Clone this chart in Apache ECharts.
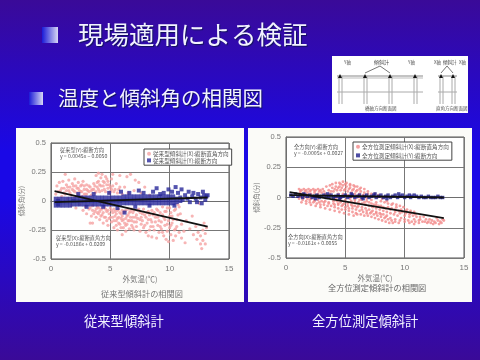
<!DOCTYPE html>
<html><head><meta charset="utf-8">
<style>html,body{margin:0;padding:0;background:#2a0ab8}#c{width:480px;height:360px;filter:blur(0.3px)}</style>
<script src="https://cdn.jsdelivr.net/npm/echarts@6/dist/echarts.min.js"></script></head>
<body><div id="c"></div>
<script>
const FONT='"Noto Sans CJK JP","Noto Sans",sans-serif';
const yTicks=[-0.5,-0.25,0,0.25,0.5];
const titleText='現場適用による検証';
const subtitleText='温度と傾斜角の相関図';
const captions=['従来型傾斜計','全方位測定傾斜計'];
const panelTitles=['従来型傾斜計の相関図','全方位測定傾斜計の相関図'];
const xAxisName='外気温(℃)';
const yAxisName='傾斜角(分)';
const legendLeft=['従来型傾斜計(X):縦断直角方向','従来型傾斜計(Y):縦断方向'];
const legendRight=['全方位測定傾斜計(X):縦断直角方向','全方位測定傾斜計(Y):縦断方向'];

const pinkLeftA=[[0.4,0.06],[0.5,0.13],[0.6,0.02],[0.7,0.16],[0.8,0.09],[0.9,0.04],[1,0.17],[1.1,0.11],[1.2,0.23],[1.2,0.06],[1.3,0.14],[1.4,0.02],[1.5,0.09],[1.5,0.18],[1.6,0.12],[1.7,0.05],[1.7,-0.04],[1.8,0.15],[1.9,0.09],[2,0.19],[2,0.03],[2.1,0.13],[2.1,-0.06],[2.2,0.07],[2.3,0.16],[2.3,0.11],[2.4,-0.03],[2.5,0.08],[2.5,0.13],[2.6,0.04],[2.7,0.17],[2.7,-0.08],[2.8,0.1],[2.9,0.06],[2.9,-0.05],[3,0.14],[3,-0.11],[3.1,0.09],[3.1,0.02],[3.2,-0.07],[3.3,0.12],[3.3,-0.19],[3.4,0.05],[3.4,-0.13],[3.5,0.1],[3.5,-0.04],[3.5,-0.19],[3.6,0.15],[3.7,-0.09],[3.7,0.07],[3.8,0.22],[3.8,-0.14],[3.9,0.12],[3.9,-0.05],[4,0.24],[4,0.17],[4,-0.11],[4.1,0.08],[4.1,-0.16],[4.2,0.2],[4.2,0.13],[4.2,-0.07],[4.3,0.23],[4.3,-0.12],[4.4,0.17],[4.4,-0.19],[4.5,0.1],[4.5,-0.05],[4.6,0.21],[4.6,-0.14],[4.7,0.14],[4.7,-0.09],[4.8,0.17],[4.8,-0.21],[4.9,0.07],[4.9,-0.15],[5,0.12],[5,-0.06],[5.1,0.19],[5.1,-0.18],[5.2,0.23],[5.2,-0.1],[5.3,0.08],[5.3,-0.23],[5.4,-0.13],[5.5,0.15],[5.5,-0.17],[5.6,-0.08],[5.6,-0.25],[5.7,0.1],[5.7,-0.14],[5.8,0.22],[5.8,-0.2],[5.9,-0.11],[6,0.06],[6,-0.17],[6,-0.29],[6.1,-0.23],[6.2,0.12],[6.2,-0.09],[6.3,-0.15],[6.3,-0.26],[6.4,0.21],[6.4,-0.2],[6.5,0.07],[6.5,-0.12],[6.6,-0.17],[6.6,-0.24],[6.7,0.23],[6.7,-0.09],[6.8,-0.21],[6.9,-0.14],[7,0.09],[7,-0.18],[7,-0.25],[7.1,0.18],[7.2,-0.12],[7.2,-0.22],[7.4,0.16],[7.4,-0.07],[7.5,-0.16],[7.5,-0.26],[7.6,0.07],[7.6,-0.2],[7.7,-0.11],[7.8,-0.23],[7.9,0.12],[8,-0.14],[8,-0.27],[8.1,-0.19],[8.2,-0.09],[8.2,-0.3],[8.3,0.05],[8.4,-0.16],[8.4,-0.22],[8.5,-0.31],[8.6,-0.12],[8.7,-0.25],[8.8,-0.18],[8.9,-0.07],[8.9,-0.32],[9,-0.21],[9,-0.14],[9.1,-0.27],[9.2,-0.1],[9.3,-0.18],[9.3,-0.24],[9.4,-0.05],[9.5,-0.3],[9.5,-0.14],[9.6,-0.21],[9.7,-0.33],[9.7,-0.09],[9.8,-0.26],[9.9,-0.17],[9.9,-0.35],[10,-0.23],[10,-0.06],[10.1,-0.29],[10.2,-0.13],[10.2,-0.19],[10.3,-0.34],[10.4,-0.25],[10.4,-0.08],[10.5,-0.3],[10.6,-0.16],[10.6,-0.22],[10.7,-0.03],[10.8,-0.27],[10.9,-0.11],[11,-0.2],[11,-0.32],[11.2,-0.26],[11.3,-0.36],[11.4,-0.17],[11.7,-0.24],[11.9,-0.13],[12,-0.29],[12.2,-0.22],[12.3,-0.33],[12.4,-0.27],[12.5,-0.02],[12.6,-0.3],[12.6,-0.37],[12.7,-0.41],[12.8,-0.25],[12.8,-0.34],[12.9,-0.19],[13,-0.28],[13,-0.37],[13.1,-0.23]];
const pinkLeftB=[[0.6,0.08],[0.9,0.11],[1.1,0.07],[1.3,0.09],[1.4,0.12],[1.6,0.07],[1.8,0.1],[1.9,0.13],[2,0.08],[2.2,0.11],[2.3,0.05],[2.4,0.09],[2.6,0.14],[2.6,0.08],[2.8,0.13],[2.8,0.06],[3,0.1],[3,0.06],[3.2,0.13],[3.2,0.08],[3.3,-0.06],[3.4,0.09],[3.5,-0.08],[3.6,0.1],[3.6,-0.11],[3.7,0.13],[3.8,0.08],[3.8,-0.07],[3.9,0.16],[3.9,-0.1],[4,0.1],[4,-0.06],[4.1,0.14],[4.1,-0.09],[4.2,-0.13],[4.3,0.09],[4.3,-0.07],[4.4,0.13],[4.4,-0.1],[4.5,0.16],[4.5,-0.14],[4.6,0.08],[4.6,-0.07],[4.7,0.19],[4.7,-0.17],[4.8,0.11],[4.8,-0.08],[4.9,0.14],[4.9,-0.11],[5,0.08],[5,-0.14],[5.1,0.1],[5.1,-0.08],[5.2,0.13],[5.2,-0.14],[5.3,-0.07],[5.3,-0.17],[5.4,0.1],[5.4,-0.09],[5.5,-0.11],[5.5,-0.21],[5.6,0.07],[5.6,-0.15],[5.7,-0.07],[5.7,-0.19],[5.8,0.12],[5.8,-0.1],[5.9,-0.15],[5.9,-0.23],[6,-0.08],[6,-0.13],[6.1,-0.1],[6.1,-0.16],[6.2,-0.19],[6.3,-0.08],[6.3,-0.21],[6.4,-0.13],[6.5,-0.07],[6.5,-0.17],[6.6,-0.1],[6.7,-0.14],[6.8,-0.07],[6.8,-0.17],[6.9,-0.1],[6.9,-0.23],[7,-0.08],[7.1,-0.14],[7.2,-0.18],[7.3,-0.08],[7.3,-0.15],[7.5,-0.1],[7.6,-0.14],[7.7,-0.17],[7.8,-0.07],[7.9,-0.12],[7.9,-0.21],[8.1,-0.1],[8.2,-0.16],[8.3,-0.12],[8.3,-0.25],[8.5,-0.08],[8.5,-0.18],[8.6,-0.22],[8.7,-0.1],[8.8,-0.14],[9,-0.08],[9.1,-0.17],[9.2,-0.22],[9.4,-0.12],[9.4,-0.27],[9.6,-0.09],[9.6,-0.16],[9.8,-0.06],[9.8,-0.2],[10,-0.13],[10.1,-0.1],[10.1,-0.21],[10.3,-0.16],[10.5,-0.07],[10.5,-0.24],[10.7,-0.12],[10.8,-0.05]];
const blueLeft=[[0.4,-0.04],[0.4,-0.01],[0.4,0.02],[0.6,-0.03],[0.6,0],[0.7,-0.04],[0.7,-0.01],[0.7,0.02],[1,-0.04],[1,-0.01],[1,0.02],[1.3,-0.04],[1.3,-0.01],[1.3,0.02],[1.6,-0.04],[1.6,-0.01],[1.6,0.02],[1.9,-0.03],[1.9,0],[1.9,0.02],[2.2,-0.03],[2.2,0],[2.2,0.03],[2.5,-0.03],[2.5,0],[2.5,0.03],[2.8,-0.03],[2.8,0],[2.8,0.03],[3.1,-0.03],[3.1,0],[3.1,0.03],[3.4,-0.03],[3.4,0],[3.4,0.03],[3.7,-0.03],[3.7,0],[3.7,0.03],[4,-0.03],[4,0],[4,0.03],[4.3,-0.03],[4.3,0],[4.3,0.03],[4.6,-0.03],[4.6,0],[4.6,0.03],[4.9,-0.03],[4.9,0],[4.9,0.03],[5.2,-0.03],[5.2,0],[5.2,0.03],[5.5,-0.03],[5.5,0],[5.5,0.03],[5.8,-0.03],[5.8,0],[5.8,0.03],[6.1,-0.02],[6.1,0.01],[6.1,0.04],[6.4,-0.02],[6.4,0.01],[6.4,0.04],[6.7,-0.02],[6.7,0.01],[6.7,0.04],[7,-0.02],[7,0.01],[7,0.04],[7.3,-0.02],[7.3,0.01],[7.3,0.04],[7.6,-0.02],[7.6,0.01],[7.6,0.04],[7.9,-0.02],[7.9,0.01],[7.9,0.04],[8.2,-0.02],[8.2,0.01],[8.2,0.04],[8.5,-0.02],[8.5,0.01],[8.5,0.04],[8.8,-0.02],[8.8,0.01],[8.8,0.04],[9.1,-0.02],[9.1,0.01],[9.1,0.04],[9.4,-0.02],[9.4,0.01],[9.4,0.04],[9.7,-0.02],[9.7,0.01],[9.7,0.04],[10,-0.02],[10,0.01],[10,0.04],[10.3,-0.02],[10.3,0.01],[10.3,0.04],[10.6,-0.01],[10.6,0.02],[10.9,0],[10.9,0.03],[2.3,0.06],[3,-0.05],[3.6,0.06],[4.4,-0.05],[4.9,0.07],[5.6,-0.06],[5.9,0.08],[6.2,-0.1],[6.6,0.07],[7.1,-0.05],[7.4,0.09],[7.8,0.07],[8.3,-0.04],[8.6,0.08],[8.9,0.11],[9.2,0.06],[9.5,0.07],[9.9,0.1],[10.2,0.08],[10.4,-0.04],[10.5,0.12],[10.7,0.07],[11,0.1],[11.1,0.01],[11.3,0.05],[11.5,0.02],[11.6,0.08],[11.7,-0.01],[11.9,0.04],[12,0.07],[12.2,0.02],[12.3,-0.01],[12.4,0.06],[12.6,0.03],[12.7,-0.02],[12.8,0.08],[12.9,0.05],[13,0.01],[13.1,0.04],[13.2,0.05]];
const pinkRightA=[[1.1,0.07],[1.3,0.06],[1.5,0.07],[1.7,0.06],[1.9,0.07],[2.1,0.06],[2.3,0.07],[2.5,0.06],[2.7,0.07],[2.9,0.06],[3.1,0.07],[1.2,0.04],[1.5,0.03],[1.8,0.04],[2.1,0.03],[2.4,0.04],[2.7,0.03],[3,0.04],[3.3,0.03],[1.2,0.01],[1.5,0],[1.8,-0.01],[2.1,-0.01],[2.4,-0.02],[2.7,-0.02],[3,-0.03],[3.3,-0.03],[3.6,-0.04],[1.1,-0.01],[1.4,-0.02],[1.7,-0.03],[2,-0.04],[2.3,-0.04],[2.6,-0.05],[2.9,-0.06],[3.2,-0.06],[3.5,-0.07],[3.8,-0.07],[4.1,-0.08],[4.4,-0.09],[4.7,-0.1],[5,-0.1],[5.3,-0.11],[5.6,-0.12],[5.9,-0.13],[3.4,0.09],[3.7,0.1],[3.9,0.11],[4.2,0.12],[4.5,0.12],[4.8,0.13],[5.1,0.12],[5.4,0.11],[5.7,0.1],[6,0.09],[6.3,0.08],[6.6,0.07],[3.6,0.06],[3.9,0.08],[4.2,0.09],[4.5,0.09],[4.8,0.1],[5.1,0.09],[5.4,0.08],[5.7,0.07],[6,0.06],[6.3,0.05],[6.6,0.04],[6.9,0.03],[3.7,0.03],[4,0.05],[4.3,0.06],[4.6,0.06],[4.9,0.06],[5.2,0.05],[5.5,0.04],[5.8,0.03],[6.1,0.02],[7.2,0.03],[7.5,0.03],[7.8,0.02],[4,-0.03],[4.3,-0.03],[4.6,-0.04],[4.9,-0.05],[5.2,-0.05],[5.5,-0.06],[5.8,-0.07],[6.1,-0.07],[6.4,-0.08],[6.7,-0.09],[7,-0.1],[7.3,-0.11],[7.6,-0.12],[7.9,-0.13],[8.2,-0.14],[8.5,-0.15],[4.1,-0.06],[4.4,-0.06],[4.7,-0.07],[5,-0.08],[5.3,-0.09],[5.6,-0.09],[5.9,-0.1],[6.2,-0.11],[6.5,-0.12],[6.8,-0.13],[7.1,-0.13],[7.4,-0.14],[7.7,-0.15],[8,-0.16],[8.3,-0.17],[8.6,-0.18],[8.9,-0.19],[9.2,-0.2],[9.5,-0.21],[6,-0.14],[6.3,-0.14],[6.6,-0.15],[6.9,-0.15],[7.2,-0.16],[7.5,-0.17],[7.8,-0.18],[8.1,-0.19],[8.4,-0.2],[8.7,-0.21],[9,-0.21],[5.5,-0.03],[5.8,-0.04],[6.1,-0.04],[6.4,-0.05],[6.7,-0.06],[7,-0.07],[7.3,-0.08],[7.6,-0.09],[7.9,-0.1],[8.2,-0.11],[8.5,-0.12],[8.8,-0.13],[9.1,-0.14],[9.4,-0.15],[9.7,-0.17],[10,-0.18],[10.3,-0.19],[10.6,-0.2],[10.9,-0.2],[11.2,-0.21],[8.6,-0.08],[8.9,-0.09],[9.2,-0.1],[9.5,-0.11],[9.8,-0.12],[10.1,-0.13],[10.4,-0.14],[10.7,-0.15],[11,-0.16],[11.3,-0.18],[9,-0.05],[9.3,-0.06],[9.6,-0.07],[9.9,-0.08],[10.2,-0.1],[10.5,-0.11],[10.8,-0.12],[8,-0.03],[8.3,-0.04],[8.6,-0.05],[6.4,0],[6.8,-0.01],[7.2,-0.02],[7.6,-0.04],[11.6,-0.16],[11.8,-0.18],[12,-0.2],[12.2,-0.21],[12.4,-0.22],[12.6,-0.21],[12.8,-0.19],[13,-0.2],[13.2,-0.18],[11.5,-0.2],[11.9,-0.21],[12.3,-0.19],[12.7,-0.17],[13.1,-0.21]];
const pinkRightB=[[1.2,0.055],[1.6,0.05],[2,0.05],[2.4,0.055],[2.8,0.05],[3.2,0.05],[1.3,-0.04],[1.7,-0.05],[2.1,-0.06],[2.5,-0.07],[2.9,-0.08],[3.3,-0.09],[3.7,-0.1],[4.1,-0.11],[4.5,-0.12],[4.9,-0.13],[5.3,-0.14],[5.7,-0.15],[2,-0.02],[2.4,-0.03],[2.8,-0.04],[3.2,-0.04],[3.6,-0.05],[4,-0.05],[4.4,-0.05],[4.8,-0.06],[5.2,-0.07],[5.6,-0.07],[6,-0.08],[6.4,-0.1],[6.8,-0.11],[7.2,-0.12],[7.6,-0.13],[8,-0.14],[8.4,-0.16],[8.8,-0.17],[9.2,-0.18],[9.6,-0.19],[10,-0.2],[10.4,-0.21],[10.8,-0.22],[4.4,0.03],[4.8,0.03],[5.2,0.02],[5.6,0.01],[6,0],[6.4,-0.02],[6.8,-0.03],[7.2,-0.05],[7.6,-0.06],[8,-0.07],[8.4,-0.09],[8.8,-0.1],[9.2,-0.12],[9.6,-0.13],[10,-0.15],[10.4,-0.16],[10.8,-0.18],[11.2,-0.19],[3.8,0.05],[4.1,0.07],[4.4,0.08],[4.7,0.08],[5,0.07],[5.3,0.07],[5.6,0.06],[5.9,0.05],[6.2,0.03],[6.5,0.02],[6.9,0.05],[7.3,0.01],[7.7,0],[8.1,-0.01],[8.5,-0.03],[8.9,-0.06],[9.3,-0.08],[9.7,-0.1],[10.1,-0.11],[10.5,-0.13],[10.9,-0.14],[11.3,-0.16],[11.7,-0.2],[12.1,-0.18],[12.5,-0.2],[12.9,-0.22],[13.3,-0.19],[4.2,-0.01],[4.6,-0.01],[5,-0.02],[5.4,-0.01],[5.8,-0.02],[6.2,-0.02],[6.6,-0.04],[7,-0.04],[7.4,-0.06],[7.8,-0.07],[8.2,-0.08],[4.6,0.11],[5,0.11],[5.4,0.1],[5.8,0.09],[6.2,0.07]];
const blueRight=[[0.4,0.02],[0.6,0.01],[0.8,0.03],[1,0.01],[1.2,0.02],[1.4,0],[1.6,0.02],[1.8,0.01],[2,0.02],[2.2,0],[2.4,0.01],[2.6,0.02],[2.8,0],[3,0.01],[3.2,0.02],[3.4,0],[3.6,0.01],[3.8,0.02],[4,0],[4.2,0.01],[4.4,0.02],[4.6,0],[4.8,0.01],[5,0.02],[5.2,0],[5.4,0.01],[5.6,0.02],[5.8,0],[6,0.01],[6.2,0.02],[6.4,0],[6.6,0.01],[6.8,0.02],[7,0],[7.2,0.01],[7.4,0.02],[7.6,0],[7.8,0.01],[8,0.02],[8.2,0],[8.4,0.01],[8.6,0.02],[8.8,0],[9,0.01],[9.2,0.02],[9.4,0],[9.6,0.01],[9.8,0.02],[10,0],[10.2,0.01],[10.4,0.02],[10.6,0.01],[10.8,0.02],[11,0.01],[11.2,0],[11.4,0.01],[11.6,0],[11.8,0],[12,0.01],[12.2,0],[12.4,0],[12.6,0],[12.8,0.01],[13,0],[13.2,0],[1.5,0.03],[2.5,-0.01],[3.5,0.03],[4.5,-0.01],[5.5,0.03],[6.5,-0.01],[7.5,0.03],[8.5,-0.01],[9.5,0.03],[10.5,0]];
const trendLeftX=[[0.3,0.085],[13.2,-0.22]];
const trendLeftY=[[0.3,-0.01],[13.2,0.03]];
const trendRightX=[[0.3,0.045],[13.3,-0.17]];
const trendRightY=[[0.3,0.02],[13.3,0]];

const grey='#6e6e6e', label='#777';
function axes(i){
  return {
    x:{type:'value',gridIndex:i,min:0,max:15,interval:5,name:xAxisName,nameLocation:'middle',nameGap:16,
       nameTextStyle:{color:label,fontSize:7.5,fontFamily:FONT},
       axisLine:{lineStyle:{color:grey}},axisTick:{show:false},
       axisLabel:{color:label,fontSize:8,margin:6,fontFamily:'Liberation Sans'},
       splitLine:{show:true,lineStyle:{color:'#777',width:1}}},
    y:{type:'value',gridIndex:i,min:-0.5,max:0.5,interval:0.25,name:yAxisName,nameLocation:'middle',nameGap:24,
       nameTextStyle:{color:label,fontSize:6.5,fontFamily:FONT},
       axisLine:{lineStyle:{color:grey}},axisTick:{show:false},
       axisLabel:{color:label,fontSize:7.5,margin:5,fontFamily:'Liberation Sans',
         formatter:v=>String(yTicks.find(t=>Math.abs(t-v)<1e-6))},
       splitLine:{show:true,lineStyle:{color:'#777',width:1}}}
  };
}
const a0=axes(0),a1=axes(1);
function scatter(name,data,i,color,shape,size){
  return {type:'scatter',name,data,xAxisIndex:i,yAxisIndex:i,symbol:shape,symbolSize:size,
    itemStyle:{color},silent:true,animation:false,large:false};
}
function trend(data,i){
  return {type:'line',data,xAxisIndex:i,yAxisIndex:i,symbol:'none',silent:true,animation:false,z:5,
    lineStyle:{color:'#111',width:1.8}};
}
function legend(i,names,left,top,gap){
  return {data:names,orient:'vertical',left,top,itemWidth:4,itemHeight:4,itemGap:gap,padding:[2,3],
    backgroundColor:'#fff',borderColor:'#444',borderWidth:1,selectedMode:false,
    textStyle:{fontSize:5.6,color:'#555',fontFamily:FONT,padding:[0,0,0,-3]}};
}
function txt(t,x,y,size,color,extra){
  return Object.assign({type:'text',z:100,x,y,silent:true,
    style:Object.assign({text:t,fontSize:size,fill:color,fontFamily:FONT,verticalAlign:'middle'},extra||{})});
}
function rect(x,y,w,h,fill,z){return {type:'rect',z:z==null?-10:z,silent:true,shape:{x,y,width:w,height:h},style:{fill}};}
function bullet(x,y,w,h){
  return {type:'rect',z:-5,silent:true,shape:{x,y,width:w,height:h},
    style:{fill:{type:'linear',x:0,y:0,x2:1,y2:0,colorStops:[{offset:0,color:'#1a1ad8'},{offset:1,color:'#d8d8f4'}]}}};
}
function ln(x1,y1,x2,y2,c,w){return {type:'line',z:-4,silent:true,shape:{x1,y1,x2,y2},style:{stroke:c||'#999',lineWidth:w||1}};}
function tri(x,y){return {type:'polygon',z:-3,silent:true,shape:{points:[[x-2,y+3],[x+2,y+3],[x,y-1]]},style:{fill:'#111'}};}

const els=[];
els.push({type:'rect',z:-20,silent:true,shape:{x:0,y:0,width:480,height:360},
  style:{fill:{type:'linear',x:0,y:0,x2:0,y2:1,colorStops:[{offset:0,color:'#3a0a98'},{offset:0.42,color:'#1a08e6'},{offset:0.55,color:'#1a08e6'},{offset:1,color:'#3a0a98'}]}}});
els.push(bullet(42,27,16,16),bullet(29,92,14,13));
els.push(txt(titleText,78,34,25.5,'#f2f2ff',{textShadowColor:'#10105a',textShadowBlur:1,textShadowOffsetX:1,textShadowOffsetY:1}));
els.push(txt(subtitleText,58,98,20.5,'#f2f2ff',{textShadowColor:'#10105a',textShadowBlur:1,textShadowOffsetX:1,textShadowOffsetY:1}));
els.push(rect(16,128,228,174,'#fbfbf8'),rect(248,128,224,174,'#fbfbf8'));
els.push(rect(51,143,178,116,'#fff',-9),rect(286,137,178,121,'#fff',-9));
els.push(txt(captions[0],84,321,13.3,'#f2f2ff'),txt(captions[1],312,321,13.3,'#f2f2ff'));
els.push(txt(panelTitles[0],101,294,8.2,'#777'),txt(panelTitles[1],328,288,8.2,'#666'));
els.push(txt('従来型(Y):縦断方向\ny = 0.0045x − 0.0050',60,153,5.2,'#555'));
els.push(txt('従来型(X):縦断直角方向\ny = -0.0186x + 0.0209',56,241,5.2,'#555'));
els.push(txt('全方向(Y):縦断方向\ny = -0.0005x + 0.0027',294,150,5.2,'#555'));
els.push(txt('全方向(X):縦断直角方向\ny = -0.0161x + 0.0055',288,240,5.2,'#555'));
// schematic
els.push(rect(332,56,136,57,'#fff'));
els.push(ln(337,76,423,76,'#888',1),ln(337,78,423,78,'#bbb',1),ln(337,92,423,92,'#aaa',1));
[340,365,390,415].forEach(x=>{els.push(ln(x-1,76,x-1,104,'#aaa',1),ln(x+2,76,x+2,104,'#aaa',1),tri(x,75));});
els.push(ln(438,76,457,76,'#888',1),ln(438,92,457,92,'#aaa',1));
[441,453].forEach(x=>{els.push(ln(x-1,76,x-1,104,'#aaa',1),ln(x+2,76,x+2,104,'#aaa',1),tri(x,75));});
els.push(ln(380,66,365,73,'#777'),ln(380,66,390,73,'#777'),ln(447,66,441,73,'#777'),ln(447,66,453,73,'#777'));
els.push(txt('Y軸',344,62,4.5,'#555'),txt('傾斜計',374,62,5,'#444'),txt('Y軸',408,62,4.5,'#555'),
  txt('X軸',434,62,4.5,'#555'),txt('傾斜計',443,62,4.5,'#444'),txt('X軸',459,62,4.5,'#555'),
  txt('橋軸方向断面図',365,108,4.5,'#555'),txt('直角方向断面図',436,108,4.5,'#555'));

const chart=echarts.init(document.getElementById('c'),null,{renderer:'canvas'});
chart.setOption({
  animation:false,
  textStyle:{fontFamily:FONT},
  graphic:{elements:els},
  grid:[{left:51,top:143,width:178,height:116,show:true,borderColor:'#555',borderWidth:1,backgroundColor:'transparent'},
        {left:286,top:137,width:178,height:121,show:true,borderColor:'#555',borderWidth:1,backgroundColor:'transparent'}],
  xAxis:[a0.x,a1.x],yAxis:[a0.y,a1.y],
  legend:[legend(0,legendLeft,144,149,1),legend(1,legendRight,353,142,3)],
  series:[
    scatter(legendLeft[0],pinkLeftA.concat(pinkLeftB),0,'#f5a3a3','circle',3.2),
    scatter(legendLeft[1],blueLeft,0,'#28289a','rect',4),
    trend(trendLeftX,0),trend(trendLeftY,0),
    scatter(legendRight[0],pinkRightA.concat(pinkRightB),1,'#f28a8a','circle',2.8),
    scatter(legendRight[1],blueRight,1,'#20208c','rect',3.4),
    trend(trendRightX,1),trend(trendRightY,1)
  ]
});
</script></body></html>
